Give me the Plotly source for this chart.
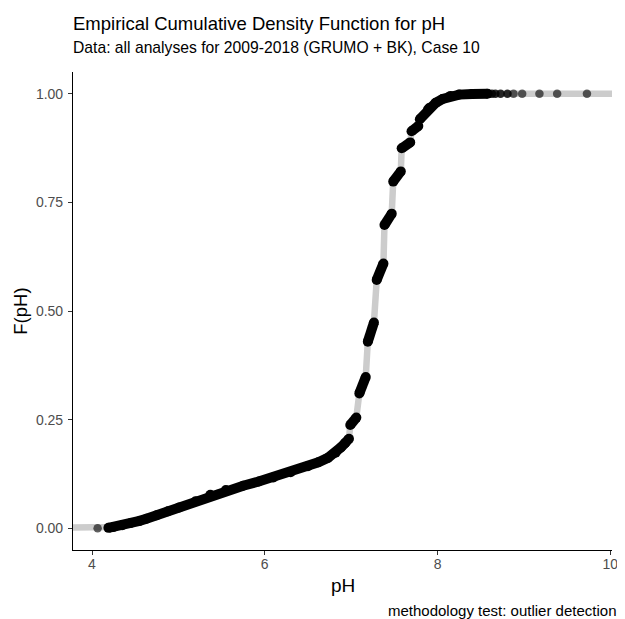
import plotly.graph_objects as go

# ECDF of pH
# continuous lower tail (many distinct two-decimal values)
tail_ph = [4.19, 4.25, 4.35, 4.45, 4.55, 4.63, 4.75, 4.88, 5.01, 5.2, 5.37, 5.55,
           5.75, 5.93, 6.1, 6.3, 6.5, 6.62, 6.73, 6.82, 6.88, 6.93, 6.975]
tail_f = [0.001, 0.003, 0.007, 0.012, 0.017, 0.022, 0.030, 0.039, 0.048, 0.062, 0.077, 0.088,
          0.098, 0.1075, 0.117, 0.129, 0.143, 0.152, 0.162, 0.174, 0.186, 0.196, 0.206]

# runs of points between the big ties at one-decimal values
dash_ph = [
    [6.99, 7.06],
    [7.095, 7.169],
    [7.193, 7.264],
    [7.296, 7.374],
    [7.386, 7.47],
    [7.487, 7.575],
    [7.585, 7.684],
    [7.699, 7.778],
    [7.795, 7.891, 7.91, 7.98, 8.06, 8.15, 8.25, 8.4, 8.58],
]
dash_f = [
    [0.2376, 0.2547],
    [0.3104, 0.3481],
    [0.4294, 0.4734],
    [0.5715, 0.6095],
    [0.698, 0.724],
    [0.7978, 0.8213],
    [0.8745, 0.888],
    [0.9137, 0.9256],
    [0.9413, 0.9643, 0.968, 0.979, 0.988, 0.995, 0.998, 0.9995, 1.0],
]

# single / sparse observations
low_ph = [4.065]
low_f = [0.0]
dark_ph = [8.63, 8.67, 8.73, 8.81]
dark_f = [1.0, 1.0, 1.0, 1.0]
high_ph = [8.88, 8.98, 9.18, 9.385, 9.73]
high_f = [1.0, 1.0, 1.0, 1.0, 1.0]

x_ticks = [4, 6, 8, 10]
y_ticks = [0, 0.25, 0.5, 0.75, 1.0]
y_labels = ["0.00", "0.25", "0.50", "0.75", "1.00"]

FONT = "Liberation Sans, Arial, sans-serif"

# step line from -inf to +inf
step_x = [3.0] + low_ph + tail_ph
step_y = [0.0] + low_f + tail_f
for px, pf in zip(dash_ph, dash_f):
    step_x += px
    step_y += pf
step_x += dark_ph + high_ph + [11.0]
step_y += dark_f + high_f + [1.0]

# black runs of overlapping points
run_x = list(tail_ph) + [None]
run_y = list(tail_f) + [None]
for px, pf in zip(dash_ph, dash_f):
    run_x += px + [None]
    run_y += pf + [None]

fig = go.Figure()

fig.add_trace(go.Scatter(
    x=step_x, y=step_y, mode='lines',
    line=dict(color='#cccccc', width=6.5),
    hoverinfo='skip', showlegend=False,
))

fig.add_trace(go.Scatter(
    x=run_x, y=run_y, mode='lines+markers',
    line=dict(color='black', width=10),
    marker=dict(color='black', size=10),
    hoverinfo='skip', showlegend=False,
))

fig.add_trace(go.Scatter(
    x=dark_ph, y=dark_f, mode='markers',
    marker=dict(color='rgba(0,0,0,0.82)', size=8.5),
    hoverinfo='skip', showlegend=False,
))

fig.add_trace(go.Scatter(
    x=low_ph + high_ph, y=low_f + high_f, mode='markers',
    marker=dict(color='rgba(0,0,0,0.62)', size=8.5),
    hoverinfo='skip', showlegend=False,
))

axis_style = dict(
    showline=True, linecolor='black', linewidth=1.1,
    ticks='outside', ticklen=4, tickwidth=1.1, tickcolor='#333333',
    tickfont=dict(family=FONT, size=14, color='#4d4d4d'),
    showgrid=False, zeroline=False,
)
fig.update_xaxes(range=[3.78, 10.02], tickvals=x_ticks, ticklabelstandoff=-3, **axis_style)
fig.update_yaxes(range=[-0.05, 1.05], tickvals=y_ticks, ticktext=y_labels,
                 ticklabelstandoff=2, **axis_style)

# page body has an 8px margin, so the figure is 8px smaller than the window
fig.update_layout(
    width=617, height=611,
    margin=dict(l=64.5, r=7, t=64, b=69),
    plot_bgcolor='white', paper_bgcolor='white',
    font=dict(family=FONT, color='black'),
    annotations=[
        dict(text="Empirical Cumulative Density Function for pH", xref='paper', yref='paper',
             x=-0.004, y=1.076, xanchor='left', yanchor='bottom', showarrow=False,
             font=dict(size=18.5, color='black')),
        dict(text="Data: all analyses for 2009-2018 (GRUMO + BK), Case 10", xref='paper', yref='paper',
             x=-0.004, y=1.029, xanchor='left', yanchor='bottom', showarrow=False,
             font=dict(size=15.7, color='black')),
        dict(text="pH", xref='paper', yref='paper', x=0.5, y=-0.049,
             xanchor='center', yanchor='top', showarrow=False,
             font=dict(size=19, color='black')),
        dict(text="F(pH)", xref='paper', yref='paper', x=-0.0757, y=0.5, textangle=-90,
             xanchor='right', yanchor='middle', showarrow=False,
             font=dict(size=18.5, color='black')),
        dict(text="methodology test: outlier detection", xref='paper', yref='paper',
             x=1.012, y=-0.104, xanchor='right', yanchor='top', showarrow=False,
             font=dict(size=15, color='black')),
    ],
)

fig.write_html("out.html")
